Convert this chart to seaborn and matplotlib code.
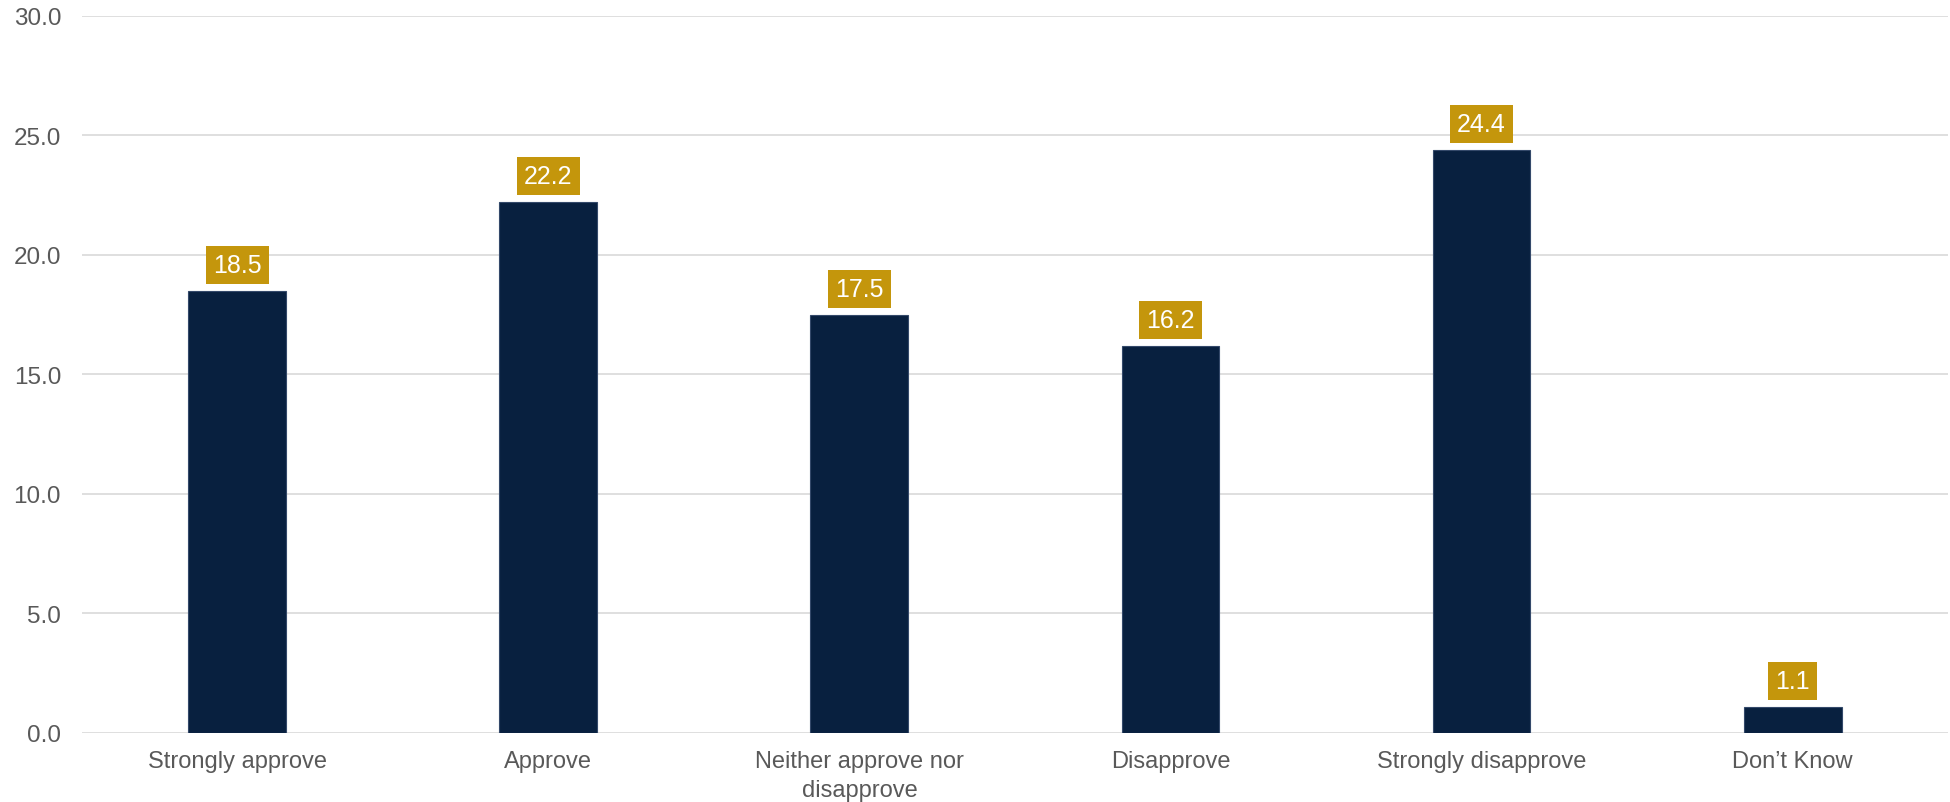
import matplotlib
matplotlib.use('Agg')
import matplotlib.pyplot as plt
import seaborn as sns

# Survey responses (percent)
categories = ['Strongly approve', 'Approve', 'Neither approve nor\ndisapprove',
              'Disapprove', 'Strongly disapprove', 'Don\u2019t Know']
values = [18.5, 22.2, 17.5, 16.2, 24.4, 1.1]
y_ticks = [0, 5, 10, 15, 20, 25, 30]

bar_color = '#08203F'
label_color = '#C4960C'
text_color = '#595959'
grid_color = '#D9D9D9'

sns.set_style('white')
plt.rcParams['font.family'] = ['Liberation Sans', 'DejaVu Sans']

fig = plt.figure(figsize=(19.5, 8.03), dpi=100)
ax = fig.add_axes([0.042, 0.086, 0.957, 0.893])

sns.barplot(x=categories, y=values, color=bar_color, width=0.315,
            edgecolor='#34496A', linewidth=0.8, saturation=1, ax=ax, zorder=3)

# value labels in gold boxes above the bars
ax.bar_label(ax.containers[0], labels=[f'{v:.1f}' for v in values],
             padding=10, color='white', fontsize=18,
             bbox=dict(boxstyle='square,pad=0.28', facecolor=label_color, edgecolor='none'))

ax.set_ylim(0, 30)
ax.set_yticks(y_ticks)
ax.set_yticklabels([f'{t:.1f}' for t in y_ticks])
ax.set_xlim(-0.5, len(categories) - 0.5)
ax.yaxis.grid(True, color=grid_color, linewidth=1.2, zorder=0)
ax.set_axisbelow(True)
sns.despine(ax=ax, left=True, bottom=True)

ax.tick_params(axis='y', length=0, pad=15, labelsize=17.5, labelcolor=text_color)
ax.tick_params(axis='x', length=0, pad=12.5, labelsize=17, labelcolor=text_color)
for lbl in ax.get_xticklabels():
    lbl.set_linespacing(1.4)
ax.set_xlabel('')
ax.set_ylabel('')

plt.savefig('out.png', dpi=100)
